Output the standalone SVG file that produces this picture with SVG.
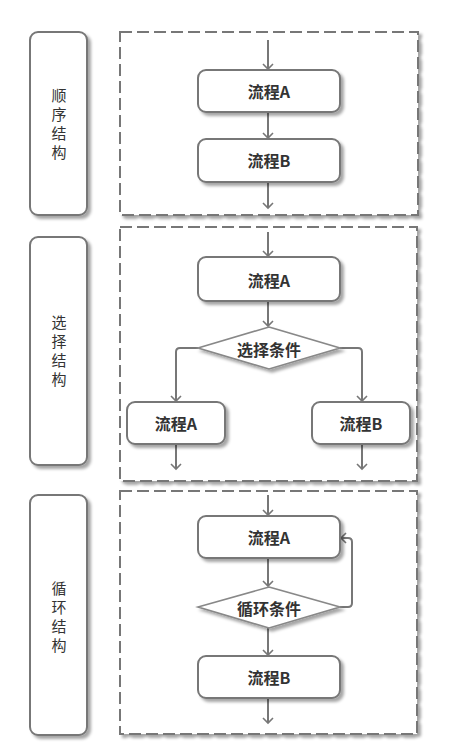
<svg xmlns="http://www.w3.org/2000/svg" width="449" height="756" viewBox="0 0 449 756">
<defs>
<filter id="sh" x="-20%" y="-20%" width="150%" height="150%">
<feDropShadow dx="3" dy="3" stdDeviation="1.5" flood-color="#000" flood-opacity="0.35"/>
</filter>
<marker id="arr" markerWidth="12" markerHeight="12" refX="6" refY="6" orient="auto" markerUnits="userSpaceOnUse">
<path d="M1,1 L6,6 L1,11" fill="none" stroke="#777" stroke-width="1.6"/>
</marker>
</defs>
<style>
.lbl{fill:#fff;stroke:#777;stroke-width:2}
.cont{fill:#fff;stroke:#777;stroke-width:2;stroke-dasharray:12 5}
.node{fill:#fff;stroke:#777;stroke-width:2}
.dia{fill:#fff;stroke:#888;stroke-width:1.6}
.t{font-family:"Noto Sans CJK SC","Liberation Sans",sans-serif;font-size:16px;font-weight:bold;fill:#333;text-anchor:middle;dominant-baseline:central}
.v{font-family:"Noto Sans CJK SC","Liberation Sans",sans-serif;font-size:15px;fill:#333;text-anchor:middle}
.c{fill:none;stroke:#777;stroke-width:2;marker-end:url(#arr)}
</style>
<rect width="449" height="756" fill="#fff"/>

<g id="label-seq">
<rect class="lbl" x="30" y="32" width="57" height="183" rx="8" filter="url(#sh)"/>
<text class="v" x="59"><tspan x="59" y="101">顺</tspan><tspan x="59" y="120">序</tspan><tspan x="59" y="139">结</tspan><tspan x="59" y="158">构</tspan></text>
</g>
<g id="label-sel">
<rect class="lbl" x="30" y="237" width="57" height="228" rx="8" filter="url(#sh)"/>
<text class="v" x="59"><tspan x="59" y="328">选</tspan><tspan x="59" y="347">择</tspan><tspan x="59" y="366">结</tspan><tspan x="59" y="385">构</tspan></text>
</g>
<g id="label-loop">
<rect class="lbl" x="30" y="495" width="57" height="240" rx="8" filter="url(#sh)"/>
<text class="v" x="59"><tspan x="59" y="594">循</tspan><tspan x="59" y="613">环</tspan><tspan x="59" y="632">结</tspan><tspan x="59" y="651">构</tspan></text>
</g>

<g id="container-seq"><rect class="cont" x="120" y="32" width="298" height="183" filter="url(#sh)"/></g>
<g id="container-sel"><rect class="cont" x="120" y="227" width="297" height="254" filter="url(#sh)"/></g>
<g id="container-loop"><rect class="cont" x="120" y="491" width="297" height="243" filter="url(#sh)"/></g>

<g id="connectors">
<path class="c" d="M268,40 V69"/>
<path class="c" d="M268,112 V138"/>
<path class="c" d="M268,182 V208"/>

<path class="c" d="M268,232 V256"/>
<path class="c" d="M268,301 V326"/>
<path class="c" d="M198,348 H180 Q176,348 176,352 V401"/>
<path class="c" d="M340,348 H358 Q362,348 362,352 V401"/>
<path class="c" d="M176,444 V469"/>
<path class="c" d="M362,444 V469"/>

<path class="c" d="M268,495 V515"/>
<path class="c" d="M268,558 V586"/>
<path class="c" d="M268,628 V655"/>
<path class="c" d="M268,698 V723"/>
<path class="c" d="M340,607 H348 Q352,607 352,603 V542 Q352,538 348,538 H341"/>
</g>

<g id="seq-a"><rect class="node" x="198" y="70" width="142" height="42" rx="8" filter="url(#sh)"/><text class="t" x="269" y="91">流程A</text></g>
<g id="seq-b"><rect class="node" x="198" y="139" width="142" height="43" rx="8" filter="url(#sh)"/><text class="t" x="269" y="160">流程B</text></g>

<g id="sel-a"><rect class="node" x="198" y="257" width="142" height="44" rx="8" filter="url(#sh)"/><text class="t" x="269" y="280">流程A</text></g>
<g id="sel-cond"><polygon class="dia" points="269,327 340,348 269,369 198,348" filter="url(#sh)"/><text class="t" x="269" y="349">选择条件</text></g>
<g id="sel-left"><rect class="node" x="127" y="402" width="98" height="42" rx="8" filter="url(#sh)"/><text class="t" x="176" y="423">流程A</text></g>
<g id="sel-right"><rect class="node" x="312" y="402" width="98" height="42" rx="8" filter="url(#sh)"/><text class="t" x="361" y="423">流程B</text></g>

<g id="loop-a"><rect class="node" x="198" y="516" width="142" height="42" rx="8" filter="url(#sh)"/><text class="t" x="269" y="537">流程A</text></g>
<g id="loop-cond"><polygon class="dia" points="269,587 340,607 269,628 198,607" filter="url(#sh)"/><text class="t" x="269" y="608">循环条件</text></g>
<g id="loop-b"><rect class="node" x="198" y="656" width="142" height="42" rx="8" filter="url(#sh)"/><text class="t" x="269" y="677">流程B</text></g>
</svg>
